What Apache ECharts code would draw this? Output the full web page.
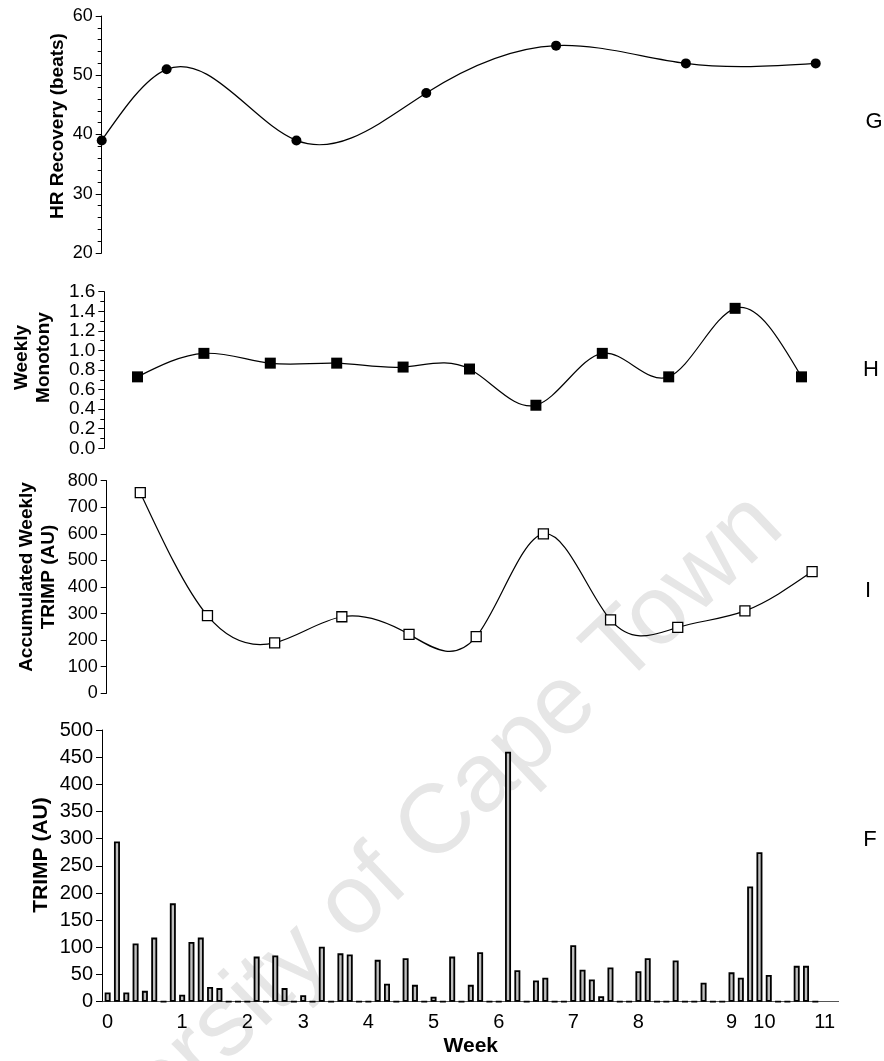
<!DOCTYPE html>
<html><head><meta charset="utf-8">
<script src="https://cdn.jsdelivr.net/npm/echarts@6/dist/echarts.min.js"></script>
<style>html,body{margin:0;padding:0;background:#fff}#c{width:884px;height:1061px}</style>
</head><body><div id="c"></div>
<script>
// Panel G: HR recovery (beats) by week
const hrWeeks = [0, 1, 3, 5, 7, 9, 11];
const hrRecovery = [39, 51, 39, 47, 55, 52, 52];
// Panels H and I: weekly values
const weekCats = ['1','2','3','4','5','6','7','8','9','10','11'];
const monotony = [0.73, 0.97, 0.87, 0.87, 0.83, 0.81, 0.44, 0.97, 0.73, 1.43, 0.73];
const weeklyTrimp = [755, 292, 190, 288, 222, 213, 600, 276, 248, 310, 458];
// Panel F: daily TRIMP (AU)
const dayCats = [0,1,2,3,4,5,6,7,8,9,10,11,12,13,14,15,16,17,18,19,20,21,22,23,24,25,26,27,28,29,30,31,32,33,34,35,36,37,38,39,40,41,42,43,44,45,46,47,48,49,50,51,52,53,54,55,56,57,58,59,60,61,62,63,64,65,66,67,68,69,70,71,72,73,74,75,76,77,78];
const dailyTrimp = [17,295,17,107,20,118,0,181,13,110,118,27,25,0,0,0,83,0,85,25,0,12,0,101,0,89,87,0,0,77,33,0,80,31,0,9,0,83,0,31,91,0,0,460,58,0,39,44,0,0,104,59,41,10,63,0,0,56,80,0,0,76,0,0,35,0,0,54,44,212,275,49,0,0,66,66,0];
// Week tick labels on the day axis
const weekLabelDays = [0, 8, 15, 21, 28, 35, 42, 50, 57, 67, 70, 77];
const weekLabels = ['0','1','2','3','4','5','6','7','8','9','10','11'];

const FONT = 'Liberation Sans, Arial, Helvetica, sans-serif';
const chart = echarts.init(document.getElementById('c'), null, {renderer: 'canvas'});

// natural cubic spline through pixel points -> bezier segments
function splineSegments(px) {
  const n = px.length;
  const x = px.map(p => p[0]), y = px.map(p => p[1]);
  const h = [];
  for (let i = 0; i < n - 1; i++) h.push(x[i + 1] - x[i]);
  const M = new Array(n).fill(0);
  if (n > 2) {
    const a = [], b = [], c = [], d = [];
    for (let k = 1; k < n - 1; k++) {
      a.push(h[k - 1]); b.push(2 * (h[k - 1] + h[k])); c.push(h[k]);
      d.push(6 * ((y[k + 1] - y[k]) / h[k] - (y[k] - y[k - 1]) / h[k - 1]));
    }
    const m = b.length;
    for (let r = 1; r < m; r++) {
      const w = a[r] / b[r - 1];
      b[r] -= w * c[r - 1]; d[r] -= w * d[r - 1];
    }
    const s = new Array(m);
    s[m - 1] = d[m - 1] / b[m - 1];
    for (let r = m - 2; r >= 0; r--) s[r] = (d[r] - c[r] * s[r + 1]) / b[r];
    for (let r = 0; r < m; r++) M[r + 1] = s[r];
  }
  const segs = [];
  for (let i = 0; i < n - 1; i++) {
    const hi = h[i], dy = (y[i + 1] - y[i]) / hi;
    const s0 = dy - hi * (2 * M[i] + M[i + 1]) / 6;
    const s1 = dy + hi * (M[i] + 2 * M[i + 1]) / 6;
    segs.push({x1: x[i], y1: y[i], cpx1: x[i] + hi / 3, cpy1: y[i] + hi / 3 * s0,
               cpx2: x[i + 1] - hi / 3, cpy2: y[i + 1] - hi / 3 * s1, x2: x[i + 1], y2: y[i + 1]});
  }
  return segs;
}

function splineSeries(xIdx, yIdx, pts) {
  return {
    type: 'custom', xAxisIndex: xIdx, yAxisIndex: yIdx, data: pts, z: 2, silent: true,
    renderItem: function (params, api) {
      if (params.dataIndex !== 0) return null;
      const segs = splineSegments(pts.map(p => api.coord(p)));
      return {type: 'group', children: segs.map(s => ({
        type: 'bezierCurve', shape: s, style: {stroke: '#000', lineWidth: 1.2, fill: 'none'}
      }))};
    }
  };
}

function yAx(grid, min, max, interval, fs, minorSplit, fmt) {
  return {
    gridIndex: grid, type: 'value', min: min, max: max, interval: interval,
    axisLine: {show: true, lineStyle: {color: '#000', width: 1}},
    axisTick: {show: true, length: 6, lineStyle: {color: '#000', width: 1}},
    minorTick: {show: minorSplit > 0, splitNumber: minorSplit || 5, length: 4, lineStyle: {color: '#000', width: 1}},
    splitLine: {show: false},
    axisLabel: {fontSize: fs, color: '#000', fontFamily: FONT, margin: 9, formatter: fmt}
  };
}

const titleStyle = (txt, x, y, size, lh) => ({
  type: 'text', x: x, y: y, rotation: Math.PI / 2, z: 10,
  style: {text: txt, fill: '#000', font: 'bold ' + size + 'px ' + FONT, textAlign: 'center', textVerticalAlign: 'middle', lineHeight: lh}
});
const letter = (txt, x, y) => ({
  type: 'text', x: x, y: y, z: 10,
  style: {text: txt, fill: '#000', font: '22px ' + FONT, textAlign: 'center', textVerticalAlign: 'middle'}
});

const hrPts = hrWeeks.map((w, i) => [w, hrRecovery[i]]);
const monoPts = monotony.map((v, i) => [i, v]);
const trimpPts = weeklyTrimp.map((v, i) => [i, v]);

const option = {
  animation: false,
  backgroundColor: '#fff',
  grid: [
    {left: 101.7, top: 16, width: 714, height: 237},
    {left: 104.3, top: 291.7, width: 730.4, height: 156.6},
    {left: 106.7, top: 480.7, width: 739, height: 212.6},
    {left: 103, top: 730, width: 735.6, height: 271.7}
  ],
  xAxis: [
    {gridIndex: 0, type: 'value', min: 0, max: 11, show: false},
    {gridIndex: 1, type: 'category', data: weekCats, show: false},
    {gridIndex: 2, type: 'category', data: weekCats, show: false},
    {gridIndex: 3, type: 'category', data: dayCats, boundaryGap: true,
     axisLine: {show: true, lineStyle: {color: '#555', width: 1}},
     axisTick: {show: false},
     name: 'Week', nameLocation: 'middle', nameGap: 34,
     nameTextStyle: {fontSize: 21, fontWeight: 'bold', color: '#000', fontFamily: FONT},
     axisLabel: {
       interval: 0, margin: 11, fontSize: 20, color: '#000', fontFamily: FONT,
       formatter: function (v, i) {
         const k = weekLabelDays.indexOf(i);
         if (k < 0) return '';
         return k === 10 ? '{s|' + weekLabels[k] + '}' : weekLabels[k];
       },
       rich: {s: {fontSize: 20, color: '#000', fontFamily: FONT, padding: [0, 0, 0, 10]}}
     }}
  ],
  yAxis: [
    yAx(0, 20, 60, 10, 18, 5),
    yAx(1, 0, 1.6, 0.2, 19, 2, v => v.toFixed(1)),
    yAx(2, 0, 800, 100, 18, 0),
    Object.assign(yAx(3, 0, 500, 50, 20, 0), {offset: 1})
  ],
  series: [
    splineSeries(0, 0, hrPts),
    {type: 'line', xAxisIndex: 0, yAxisIndex: 0, data: hrPts, z: 3,
     symbol: 'circle', symbolSize: 10,
     itemStyle: {color: '#000'}, lineStyle: {width: 0, opacity: 0}},
    splineSeries(1, 1, monoPts),
    {type: 'line', xAxisIndex: 1, yAxisIndex: 1, data: monotony, z: 3,
     symbol: 'rect', symbolSize: 11,
     itemStyle: {color: '#000'}, lineStyle: {width: 0, opacity: 0}},
    splineSeries(2, 2, trimpPts),
    {type: 'line', xAxisIndex: 2, yAxisIndex: 2, data: weeklyTrimp, z: 3,
     symbol: 'rect', symbolSize: 10,
     itemStyle: {color: '#fff', borderColor: '#000', borderWidth: 1.3}, lineStyle: {width: 0, opacity: 0}},
    {type: 'bar', xAxisIndex: 3, yAxisIndex: 3, data: dailyTrimp, barWidth: 6,
     itemStyle: {color: '#c0c0c0', borderColor: '#000', borderWidth: 1.8}}
  ],
  graphic: [
    {type: 'text', x: 385, y: 875, rotation: 0.76, z: -10, silent: true,
     style: {text: 'University of Cape Town', fill: '#e6e6e6', font: '98px ' + FONT, textAlign: 'center', textVerticalAlign: 'middle'}},
    titleStyle('HR Recovery (beats)', 58, 126, 19, 22),
    titleStyle('Weekly\nMonotony', 32.5, 357.5, 19, 22),
    titleStyle('Accumulated Weekly\nTRIMP (AU)', 37.5, 577, 19, 22),
    titleStyle('TRIMP (AU)', 41, 855, 21, 24),
    letter('G', 874, 121.7),
    letter('H', 871, 369.5),
    letter('I', 868, 591),
    letter('F', 870, 840)
  ]
};
chart.setOption(option);
</script>
</body></html>
